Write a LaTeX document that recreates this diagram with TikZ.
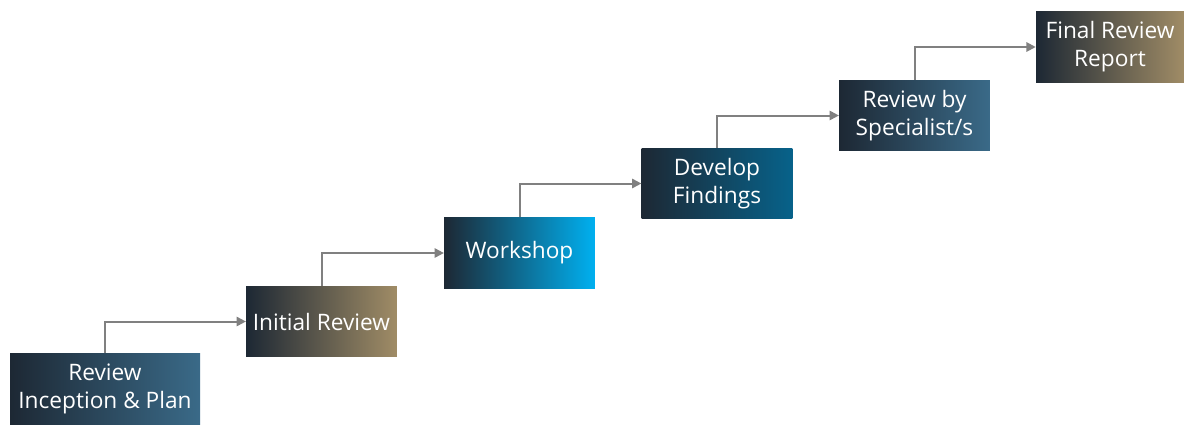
\documentclass[tikz,border=0pt]{standalone}
\usepackage{fontspec}
\setmainfont{Open Sans}
\usetikzlibrary{arrows.meta}

\definecolor{navy}{HTML}{1D2834}
\definecolor{steel}{HTML}{3A6A88}
\definecolor{tan}{HTML}{A08C66}
\definecolor{cyan}{HTML}{00B0F0}
\definecolor{teal}{HTML}{07628A}
\definecolor{link}{HTML}{808080}

\tikzset{
  stage/.style={rectangle,inner sep=1pt,align=center,text=white,
    font=\fontsize{17}{21}\selectfont,left color=navy,
    minimum width=113pt,minimum height=53pt},
  flow/.style={link,line width=1.5pt,-{Triangle[length=7pt,width=7pt]}}
}

\begin{document}
\begin{tikzpicture}[x=0.75pt,y=-0.75pt]
\useasboundingbox (0,0) rectangle (1184,425);

\node[stage,right color=steel,minimum width=142.5pt] (inception) at (105,389) {Review\\Inception \& Plan};
\node[stage,right color=tan] (initial) at (321.5,321.5) {Initial Review};
\node[stage,right color=cyan] (workshop) at (519.5,253) {Workshop};
\node[stage,right color=teal] (findings) at (717,183.5) {Develop\\Findings};
\node[stage,right color=steel] (specialist) at (914.5,115.5) {Review by\\Specialist/s};
\node[stage,right color=tan,minimum width=111pt] (final) at (1110,47) {Final Review\\Report};

\draw[flow] (inception.north) |- (initial.west);
\draw[flow] (initial.north) |- (workshop.west);
\draw[flow] (workshop.north) |- (findings.west);
\draw[flow] (findings.north) |- (specialist.west);
\draw[flow] (specialist.north) |- (final.west);

\end{tikzpicture}
\end{document}
